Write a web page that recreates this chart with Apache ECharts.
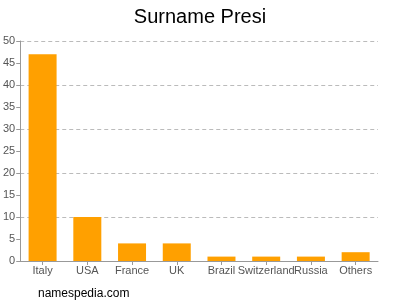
<!DOCTYPE html>
<html><head><meta charset="utf-8">
<script src="https://cdn.jsdelivr.net/npm/echarts@6/dist/echarts.min.js"></script>
<style>html,body{margin:0;padding:0;background:#fff}#c{width:400px;height:300px}</style>
</head><body><div id="c"></div>
<script>
const categories = ['Italy','USA','France','UK','Brazil','Switzerland','Russia','Others'];
const counts = [47,10,4,4,1,1,1,2];
const yTicks = [0,5,10,15,20,25,30,35,40,45,50];
const gridStep = 10;

const chart = echarts.init(document.getElementById('c'), null, {renderer:'canvas'});
chart.setOption({
  animation:false,
  backgroundColor:'#fff',
  title:[{text:'Surname Presi',left:'center',top:2,textStyle:{fontFamily:'Liberation Sans',fontSize:20,fontWeight:'normal',color:'#000'}},
         {text:'namespedia.com',left:33,top:283,textStyle:{fontFamily:'Liberation Sans',fontSize:12,fontWeight:'normal',color:'#000'}}],
  grid:{left:18,right:22,top:41,bottom:39,containLabel:false},
  xAxis:{type:'category',data:categories,
    axisLine:{lineStyle:{color:'#999'}},
    axisTick:{show:true,alignWithLabel:true,length:4,lineStyle:{color:'#999'}},
    axisLabel:{color:'#555',fontFamily:'Liberation Sans',fontSize:11,margin:4,interval:0}},
  yAxis:[{type:'value',min:yTicks[0],max:yTicks[yTicks.length-1],interval:5,
    axisLine:{show:true,lineStyle:{color:'#999'}},
    axisTick:{show:true,length:4,lineStyle:{color:'#999'}},
    axisLabel:{color:'#555',fontFamily:'Liberation Sans',fontSize:11,margin:5},
    splitLine:{show:false}},
   {type:'value',min:yTicks[0],max:yTicks[yTicks.length-1],interval:gridStep,position:'left',
    axisLine:{show:false},axisTick:{show:false},axisLabel:{show:false},
    splitLine:{show:true,lineStyle:{color:'#bbb',type:[4,3]}}}],
  series:[{type:'bar',data:counts,barWidth:28,itemStyle:{color:'#ffa000'}}]
});
</script></body></html>
